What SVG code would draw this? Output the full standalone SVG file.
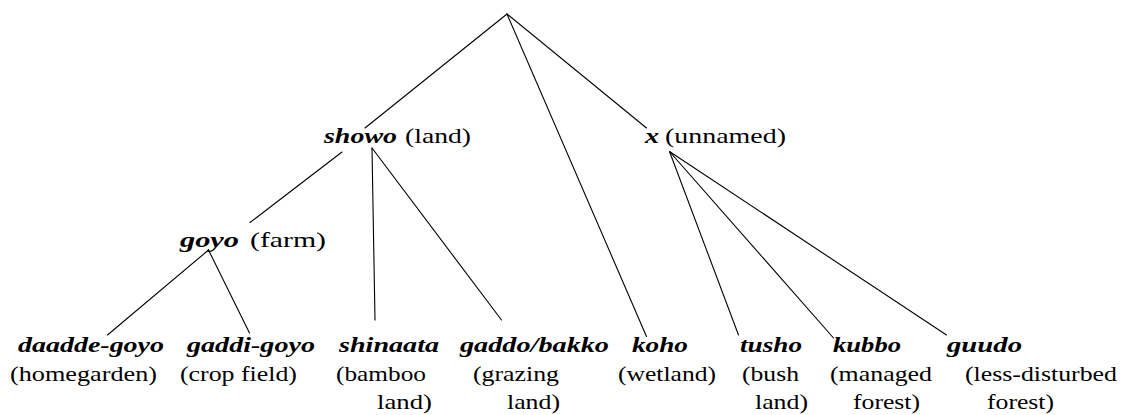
<svg xmlns="http://www.w3.org/2000/svg" width="1122" height="415" viewBox="0 0 1122 415">
  <style>
    text { font-family: "Liberation Serif", "Times New Roman", serif; font-size: 21px; fill: #000; }
    .term { font-weight: bold; font-style: italic; }
    .gloss { font-weight: normal; }
    .edges line { stroke: #000; stroke-width: 1.1; fill: none; stroke-linecap: round; }
  </style>
  <rect width="1122" height="415" fill="#fff"/>

  <!-- tree edges -->
  <g class="edges" id="connectors">
    <line x1="507" y1="14" x2="365" y2="128"/>
    <line x1="507" y1="14" x2="646.5" y2="128"/>
    <line x1="507" y1="14" x2="646.5" y2="336.5"/>
    <line x1="342" y1="152" x2="250" y2="222.5"/>
    <line x1="372" y1="148" x2="375" y2="320"/>
    <line x1="372" y1="148" x2="501.5" y2="320"/>
    <line x1="208.5" y1="250" x2="107.5" y2="335"/>
    <line x1="208.5" y1="250" x2="249.5" y2="333"/>
    <line x1="669.5" y1="151.5" x2="738.5" y2="335"/>
    <line x1="669.5" y1="151.5" x2="833.5" y2="338"/>
    <line x1="669.5" y1="151.5" x2="946.5" y2="335"/>
  </g>

  <!-- second level -->
  <g id="showo">
    <text class="term" x="324" y="143" textLength="73" lengthAdjust="spacingAndGlyphs">showo</text>
    <text class="gloss" x="405" y="143" textLength="66" lengthAdjust="spacingAndGlyphs">(land)</text>
  </g>
  <g id="x-unnamed">
    <text class="term" x="645" y="143" textLength="14" lengthAdjust="spacingAndGlyphs">x</text>
    <text class="gloss" x="665" y="143" textLength="121" lengthAdjust="spacingAndGlyphs">(unnamed)</text>
  </g>

  <!-- third level -->
  <g id="goyo">
    <text class="term" x="180" y="247" textLength="59" lengthAdjust="spacingAndGlyphs">goyo</text>
    <text class="gloss" x="250" y="247" textLength="76" lengthAdjust="spacingAndGlyphs">(farm)</text>
  </g>

  <!-- leaves -->
  <g id="daadde-goyo">
    <text class="term" x="18" y="352" textLength="146" lengthAdjust="spacingAndGlyphs">daadde-goyo</text>
    <text class="gloss" x="10" y="381" textLength="147" lengthAdjust="spacingAndGlyphs">(homegarden)</text>
  </g>
  <g id="gaddi-goyo">
    <text class="term" x="187" y="352" textLength="128" lengthAdjust="spacingAndGlyphs">gaddi-goyo</text>
    <text class="gloss" x="180" y="381" textLength="117" lengthAdjust="spacingAndGlyphs">(crop field)</text>
  </g>
  <g id="shinaata">
    <text class="term" x="339" y="352" textLength="100" lengthAdjust="spacingAndGlyphs">shinaata</text>
    <text class="gloss" x="336" y="381" textLength="90" lengthAdjust="spacingAndGlyphs">(bamboo</text>
    <text class="gloss" x="377" y="409" textLength="55" lengthAdjust="spacingAndGlyphs">land)</text>
  </g>
  <g id="gaddo-bakko">
    <text class="term" x="460" y="352" textLength="149" lengthAdjust="spacingAndGlyphs">gaddo/bakko</text>
    <text class="gloss" x="473" y="381" textLength="86" lengthAdjust="spacingAndGlyphs">(grazing</text>
    <text class="gloss" x="507" y="409" textLength="53" lengthAdjust="spacingAndGlyphs">land)</text>
  </g>
  <g id="koho">
    <text class="term" x="632" y="352" textLength="56" lengthAdjust="spacingAndGlyphs">koho</text>
    <text class="gloss" x="618" y="381" textLength="98" lengthAdjust="spacingAndGlyphs">(wetland)</text>
  </g>
  <g id="tusho">
    <text class="term" x="740" y="352" textLength="62" lengthAdjust="spacingAndGlyphs">tusho</text>
    <text class="gloss" x="742" y="381" textLength="57" lengthAdjust="spacingAndGlyphs">(bush</text>
    <text class="gloss" x="755" y="409" textLength="53" lengthAdjust="spacingAndGlyphs">land)</text>
  </g>
  <g id="kubbo">
    <text class="term" x="833" y="352" textLength="68" lengthAdjust="spacingAndGlyphs">kubbo</text>
    <text class="gloss" x="830" y="381" textLength="102" lengthAdjust="spacingAndGlyphs">(managed</text>
    <text class="gloss" x="853" y="409" textLength="67" lengthAdjust="spacingAndGlyphs">forest)</text>
  </g>
  <g id="guudo">
    <text class="term" x="947" y="352" textLength="75" lengthAdjust="spacingAndGlyphs">guudo</text>
    <text class="gloss" x="965" y="381" textLength="152" lengthAdjust="spacingAndGlyphs">(less-disturbed</text>
    <text class="gloss" x="987" y="409" textLength="67" lengthAdjust="spacingAndGlyphs">forest)</text>
  </g>
</svg>
